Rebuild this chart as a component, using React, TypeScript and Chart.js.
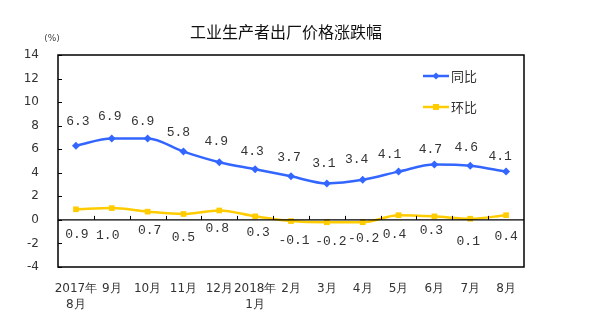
import React, { useEffect, useRef } from "react";
import { Chart, registerables } from "chart.js";

Chart.register(...registerables);

const categories: (string | string[])[] = [
  ["2017年", "8月"], "9月", "10月", "11月", "12月", ["2018年", "1月"],
  "2月", "3月", "4月", "5月", "6月", "7月", "8月",
];
const yoyValues = [6.3, 6.9, 6.9, 5.8, 4.9, 4.3, 3.7, 3.1, 3.4, 4.1, 4.7, 4.6, 4.1];
const momValues = [0.9, 1.0, 0.7, 0.5, 0.8, 0.3, -0.1, -0.2, -0.2, 0.4, 0.3, 0.1, 0.4];
const yTicks = [-4, -2, 0, 2, 4, 6, 8, 10, 12, 14];
const seriesNames = ["同比", "环比"];
const titleText = "工业生产者出厂价格涨跌幅";
const unitText = "(%)";

// label placement (pixel offsets from the point)
const yoyLabelDy = [-24, -22, -17, -19, -21, -18, -19, -20, -20, -17, -15, -18, -15];
const yoyLabelDx = [2, -2, -5, -5, -3, -3, -2, -3, -6, -9, -4, -4, -6];
const momLabelY = [235, 236, 231, 238, 229, 233, 241, 242, 239, 235, 231, 242, 237];
const momLabelDx = [1, -4, 2, 0, -2, 3, 3, 4, 1, -4, -3, -2, 0];

const BLUE = "#3366FF";
const YELLOW = "#FFCC00";
const numFont = "13px 'Liberation Mono', 'DejaVu Sans Mono', monospace";

const decorPlugin = {
  id: "decor",
  afterDatasetsDraw(chart: any) {
    const ctx = chart.ctx;
    const { left, right, top, bottom } = chart.chartArea;
    const x = chart.scales.x;
    const y = chart.scales.y;
    ctx.save();
    // frame
    ctx.strokeStyle = "#000";
    ctx.lineWidth = 1.5;
    ctx.strokeRect(left, top, right - left, bottom - top);
    // zero line
    const y0 = y.getPixelForValue(0);
    ctx.lineWidth = 1.2;
    ctx.beginPath();
    ctx.moveTo(left, y0);
    ctx.lineTo(right, y0);
    ctx.stroke();
    // x ticks on the zero line
    const n = categories.length;
    const w = (right - left) / n;
    ctx.lineWidth = 1;
    for (let i = 1; i < n; i++) {
      const px = Math.round(left + i * w) + 0.5;
      ctx.beginPath();
      ctx.moveTo(px, y0);
      ctx.lineTo(px, y0 - 4);
      ctx.stroke();
    }
    // y ticks inward
    for (const v of yTicks) {
      const py = Math.round(y.getPixelForValue(v)) + 0.5;
      ctx.beginPath();
      ctx.moveTo(left, py);
      ctx.lineTo(left + 4, py);
      ctx.stroke();
    }
    // data labels
    ctx.font = numFont;
    ctx.fillStyle = "#333";
    ctx.textAlign = "center";
    ctx.textBaseline = "middle";
    yoyValues.forEach((v, i) => {
      const px = x.getPixelForValue(i);
      const py = y.getPixelForValue(v);
      ctx.fillText(v.toFixed(1), px + yoyLabelDx[i], py + yoyLabelDy[i]);
    });
    momValues.forEach((v, i) => {
      const px = x.getPixelForValue(i);
      ctx.fillText(v.toFixed(1), px + momLabelDx[i], momLabelY[i]);
    });
    // legend
    const legendColors = [BLUE, YELLOW];
    const legendY = [76, 107];
    seriesNames.forEach((name, i) => {
      const ly = legendY[i];
      ctx.strokeStyle = legendColors[i];
      ctx.fillStyle = legendColors[i];
      ctx.lineWidth = 2.5;
      ctx.beginPath();
      ctx.moveTo(423, ly);
      ctx.lineTo(449, ly);
      ctx.stroke();
      if (i === 0) {
        ctx.beginPath();
        ctx.moveTo(436, ly - 3.5);
        ctx.lineTo(439.5, ly);
        ctx.lineTo(436, ly + 3.5);
        ctx.lineTo(432.5, ly);
        ctx.closePath();
        ctx.fill();
      } else {
        ctx.fillRect(433, ly - 3, 6, 6);
      }
      ctx.fillStyle = "#333";
      ctx.textAlign = "left";
      ctx.font = "13px 'Noto Sans CJK SC', sans-serif";
      ctx.fillText(name, 451, ly);
    });
    // title & unit
    ctx.fillStyle = "#111";
    ctx.textAlign = "center";
    ctx.font = "16px 'Noto Sans CJK SC', sans-serif";
    ctx.fillText(titleText, 286, 32);
    ctx.font = "9px 'DejaVu Sans', sans-serif";
    ctx.fillStyle = "#444";
    ctx.fillText(unitText, 52, 39);
    ctx.restore();
  },
};

export default function App() {
  const ref = useRef<HTMLCanvasElement>(null);
  useEffect(() => {
    document.body.style.margin = "0";
    const chart = new Chart(ref.current!, {
      type: "line",
      data: {
        labels: categories as any,
        datasets: [
          {
            label: seriesNames[0],
            data: yoyValues,
            borderColor: BLUE,
            backgroundColor: BLUE,
            borderWidth: 2.5,
            pointStyle: "rectRot",
            pointRadius: 4,
            pointBorderWidth: 0,
            cubicInterpolationMode: "monotone",
          },
          {
            label: seriesNames[1],
            data: momValues,
            borderColor: YELLOW,
            backgroundColor: YELLOW,
            borderWidth: 2.5,
            pointStyle: "rect",
            pointRadius: 4,
            pointBorderWidth: 0,
            cubicInterpolationMode: "monotone",
          },
        ],
      },
      options: {
        responsive: false,
        animation: false,
        layout: { padding: { top: 55, right: 65, left: 0, bottom: 0 } },
        plugins: { legend: { display: false }, tooltip: { enabled: false } },
        scales: {
          x: {
            offset: true,
            grid: { display: false },
            border: { display: false },
            ticks: {
              color: "#333",
              font: { size: 12, family: "'DejaVu Sans', sans-serif", lineHeight: 1.35 },
              padding: 6,
              maxRotation: 0,
              autoSkip: false,
            },
            afterFit: (s: any) => { s.height = 65; },
          },
          y: {
            min: -4,
            max: 14,
            afterBuildTicks: (s: any) => { s.ticks = yTicks.map((v) => ({ value: v })); },
            grid: { display: false },
            border: { display: false },
            ticks: {
              color: "#333",
              font: { size: 12, family: "'DejaVu Sans', sans-serif" },
              padding: 11,
            },
            afterFit: (s: any) => { s.width = 58; },
          },
        },
      },
      plugins: [decorPlugin],
    });
    return () => chart.destroy();
  }, []);
  return (
    <div style={{ position: "fixed", left: 0, top: 0, width: 589, height: 332, background: "#fff" }}>
      <canvas ref={ref} width={589} height={332} />
    </div>
  );
}
